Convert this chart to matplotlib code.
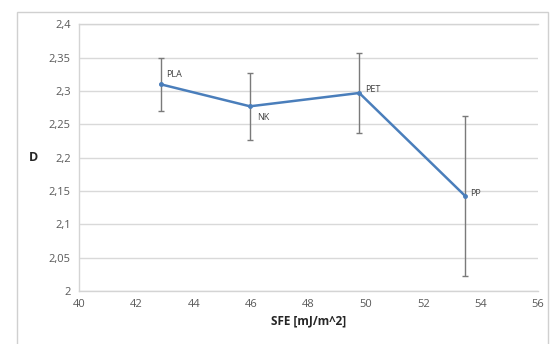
import matplotlib
matplotlib.use("Agg")
import matplotlib.pyplot as plt
from matplotlib.patches import Rectangle
from matplotlib.ticker import FuncFormatter

materials = ["PLA", "NK", "PET", "PP"]
sfe = [42.85, 45.96, 49.77, 53.45]
d_values = [2.310, 2.277, 2.297, 2.143]
d_errors = [0.040, 0.050, 0.060, 0.120]
x_ticks = [40, 42, 44, 46, 48, 50, 52, 54, 56]
y_ticks = [2.0, 2.05, 2.1, 2.15, 2.2, 2.25, 2.3, 2.35, 2.4]

plt.rcParams['font.family'] = ['Open Sans', 'DejaVu Sans']

fig = plt.figure(figsize=(5.54, 3.44), dpi=100)
W, H = 554, 344
fig.patches.append(Rectangle((17 / W, -0.05), (548 - 17) / W, 1.05 - 12 / H,
                             transform=fig.transFigure, fill=False,
                             edgecolor='#d0d0d0', linewidth=1.0))

ax = fig.add_axes([79 / W, 1 - 291 / H, (538 - 79) / W, (291 - 24.3) / H])
ax.set_xlim(40, 56)
ax.set_ylim(2.0, 2.4)
ax.set_xticks(x_ticks)
ax.set_yticks(y_ticks)

def comma(v, pos):
    s = ('%g' % v)
    return s.replace('.', ',')

ax.xaxis.set_major_formatter(FuncFormatter(comma))
ax.yaxis.set_major_formatter(FuncFormatter(comma))
ax.tick_params(length=0, labelsize=8, colors='#595959', pad=6)
ax.grid(axis='y', color='#d9d9d9', linewidth=1.0)
ax.set_axisbelow(True)
for s in ['right']:
    ax.spines[s].set_visible(False)
for s in ['left', 'bottom', 'top']:
    ax.spines[s].set_color('#d4d4d4')
    ax.spines[s].set_linewidth(1.0)

ax.errorbar(sfe, d_values, yerr=d_errors, fmt='none', ecolor='#7a7a7a',
            elinewidth=1.0, capsize=2, capthick=1.0, zorder=2)
ax.plot(sfe, d_values, color='#4a7ebb', linewidth=1.8, marker='o',
        markersize=2.5, zorder=3)

offsets = {"PLA": (4, 4), "NK": (5, -11), "PET": (4, -1), "PP": (4, -2)}
for m, x, y in zip(materials, sfe, d_values):
    dx, dy = offsets[m]
    ax.annotate(m, (x, y), xytext=(dx, dy), textcoords='offset points',
                fontsize=6.5, color='#404040', va='bottom', ha='left')

ax.set_xlabel('SFE [mJ/m^2]', fontsize=8.5, fontweight='bold', color='#262626', labelpad=3)
fig.text(33 / W, 1 - 158 / H, 'D', fontsize=9, fontweight='bold', color='#262626',
         ha='center', va='center')

fig.savefig('out.png', dpi=100)
